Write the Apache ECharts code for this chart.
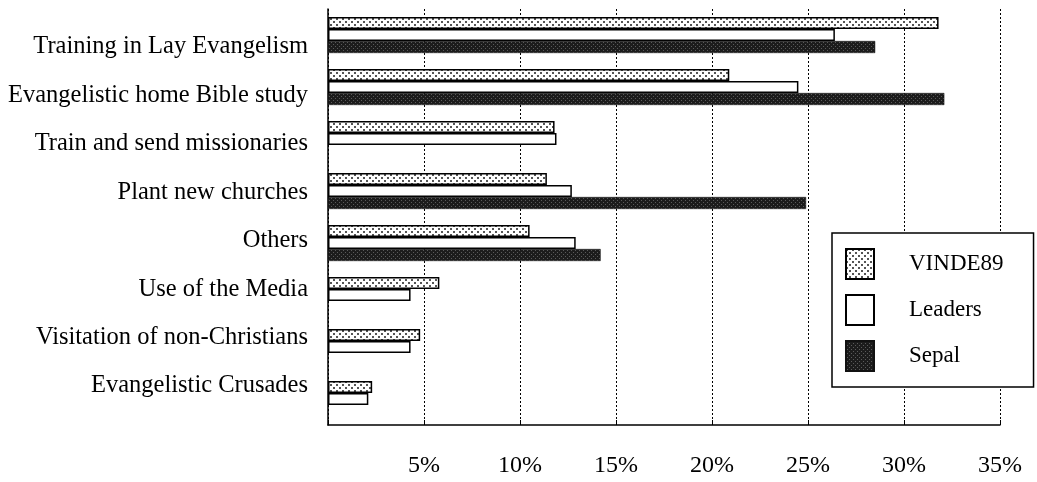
<!DOCTYPE html>
<html>
<head>
<meta charset="utf-8">
<script src="https://cdn.jsdelivr.net/npm/echarts@6/dist/echarts.min.js"></script>
<style>
  html, body { margin: 0; padding: 0; background: #fff; }
  #chart { width: 1037px; height: 482px; }
</style>
</head>
<body>
<div id="chart"></div>
<script>
// ---- data ----
const categories = [
  'Training in Lay Evangelism',
  'Evangelistic home Bible study',
  'Train and send missionaries',
  'Plant new churches',
  'Others',
  'Use of the Media',
  'Visitation of non-Christians',
  'Evangelistic Crusades'
];
const seriesNames = ['VINDE89', 'Leaders', 'Sepal'];
const vinde89 = [31.8, 20.9, 11.8, 11.4, 10.5, 5.8, 4.8, 2.3];
const leaders = [26.4, 24.5, 11.9, 12.7, 12.9, 4.3, 4.3, 2.1];
const sepal   = [28.5, 32.1, null, 24.9, 14.2, null, null, null];
const xTicks = [0, 5, 10, 15, 20, 25, 30, 35];

// ---- textures ----
function dotPattern() {
  const c = document.createElement('canvas');
  c.width = 6; c.height = 6;
  const g = c.getContext('2d');
  g.fillStyle = '#ffffff'; g.fillRect(0, 0, 6, 6);
  g.fillStyle = '#555555';
  g.fillRect(0, 0, 2, 2);
  g.fillRect(3, 3, 2, 2);
  return c;
}
function darkPattern() {
  const c = document.createElement('canvas');
  c.width = 4; c.height = 4;
  const g = c.getContext('2d');
  g.fillStyle = '#1c1c1c'; g.fillRect(0, 0, 4, 4);
  g.fillStyle = '#5a5a5a';
  g.fillRect(1, 0, 1, 1);
  g.fillRect(3, 2, 1, 1);
  return c;
}

const font = 'Liberation Serif';
const chart = echarts.init(document.getElementById('chart'), null, { renderer: 'canvas' });

const option = {
  animation: false,
  backgroundColor: '#ffffff',
  textStyle: { fontFamily: font, color: '#000' },
  legend: {
    orient: 'vertical',
    left: 832, top: 233,
    padding: [15, 30, 15, 13],
    itemWidth: 28, itemHeight: 30, itemGap: 14,
    borderColor: '#000', borderWidth: 1.5,
    backgroundColor: '#fff',
    icon: 'rect',
    textStyle: { fontFamily: font, fontSize: 23, color: '#000', padding: [0, 0, 0, 30] },
    data: seriesNames
  },
  grid: [
    { left: 328, right: 37, top: 9, bottom: 57 },
    { left: 328, right: 37, top: 22.8, height: 387.4 }
  ],
  xAxis: [
    {
      gridIndex: 0, type: 'value', min: xTicks[0], max: xTicks[xTicks.length - 1], interval: 5,
      axisLine: { show: true, lineStyle: { color: '#000', width: 1.5 } },
      axisTick: { show: true, inside: true, length: 5, lineStyle: { color: '#000' } },
      splitLine: { show: true, lineStyle: { color: '#000', type: [2, 2], width: 1 } },
      axisLabel: {
        margin: 29, fontFamily: font, fontSize: 24, color: '#000',
        formatter: v => (v === 0 ? '' : v + '%')
      }
    },
    { gridIndex: 1, type: 'value', show: false, min: 0, max: 35 }
  ],
  yAxis: [
    {
      gridIndex: 0, type: 'category', inverse: true, data: categories,
      axisLine: { show: true, lineStyle: { color: '#000', width: 1.5 } },
      axisTick: { show: false },
      axisLabel: { show: false },
      splitLine: { show: false }
    },
    {
      gridIndex: 1, type: 'category', inverse: true, data: categories,
      axisLine: { show: false }, axisTick: { show: false }, splitLine: { show: false },
      axisLabel: { show: true, margin: 20, fontFamily: font, fontSize: 24.5, color: '#000' }
    }
  ],
  series: [
    {
      name: seriesNames[0], type: 'bar', data: vinde89, barWidth: 12, barGap: '0%',
      itemStyle: { color: { image: dotPattern(), repeat: 'repeat' }, borderColor: '#000', borderWidth: 1.5 }
    },
    {
      name: seriesNames[1], type: 'bar', data: leaders, barWidth: 12, barGap: '0%',
      itemStyle: { color: '#ffffff', borderColor: '#000', borderWidth: 1.5 }
    },
    {
      name: seriesNames[2], type: 'bar', data: sepal, barWidth: 12, barGap: '0%',
      itemStyle: { color: { image: darkPattern(), repeat: 'repeat' }, borderColor: '#111', borderWidth: 0.5 }
    }
  ]
};
chart.setOption(option);
</script>
</body>
</html>
